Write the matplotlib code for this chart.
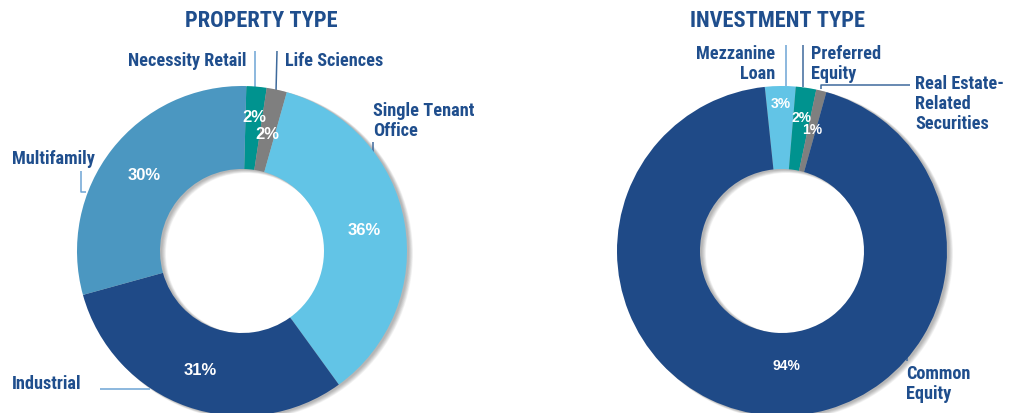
import matplotlib
matplotlib.use("Agg")
import matplotlib.pyplot as plt
from matplotlib import font_manager as fm
from matplotlib.font_manager import FontProperties
from matplotlib.patches import Wedge
import numpy as np

W, H = 1016, 414

# data
PROP_LABELS = ["Necessity Retail", "Life Sciences", "Single Tenant\nOffice", "Industrial", "Multifamily"]
PROP_VALUES = [2, 2, 36, 31, 30]
PROP_PCT = ["2%", "2%", "36%", "31%", "30%"]

INV_LABELS = ["Mezzanine\nLoan", "Preferred\nEquity", "Real Estate-\nRelated\nSecurities", "Common\nEquity"]
INV_VALUES = [3, 2, 1, 94]
INV_PCT = ["3%", "2%", "1%", "94%"]

DARK = "#1F4A87"
MID = "#4B97C1"
LIGHT = "#62C4E6"
TEAL = "#00938F"
GRAY = "#7F7F7F"
TXT = "#1F4E8D"
LINE_D = "#3E6A9C"
LINE_L = "#6EA4D4"

R_OUT, R_IN = 165, 82


def narrow_font():
    # look for an installed condensed bold face, else plain Liberation Sans bold
    prefs = ["liberation sans narrow", "roboto condensed", "noto sans condensed",
             "open sans condensed", "dejavu sans condensed", "condensed", "narrow"]
    cands = []
    for f in fm.fontManager.ttflist:
        key = (f.name + " " + f.fname).lower()
        cond = "narrow" in key or "condensed" in key or f.stretch in ("condensed", "semi-condensed")
        bold = f.weight in (700, "bold") or "bold" in f.fname.lower()
        if cond and bold and "italic" not in f.fname.lower() and "oblique" not in f.fname.lower():
            rank = next(i for i, p in enumerate(prefs) if p in key or p == "condensed" or p == "narrow")
            cands.append((rank, f.fname))
    if cands:
        return FontProperties(fname=sorted(cands)[0][1])
    return FontProperties(family="Liberation Sans", weight="bold")


def fit_size(fig, ax, fp, text, base, target):
    r = fig.canvas.get_renderer()
    t = ax.text(0, 0, text, fontproperties=fp, fontsize=base)
    w = t.get_window_extent(r).width
    t.remove()
    return min(base * target / w, base * 1.05)


def shadow(ax, cx, cy):
    for s in np.linspace(0, 5, 8):
        ax.add_patch(Wedge((cx + 2 + s * 0.5, cy - 1 - s * 0.3), R_OUT + s * 0.3, 0, 360,
                           width=R_OUT - R_IN + s * 0.6, color="#000000", alpha=0.04, lw=0, zorder=0))


def donut(ax, values, pct, colors, center, start, pct_pos, pct_size):
    cx, cy = center[0], H - center[1]
    shadow(ax, cx, cy)
    wedges, _ = ax.pie(values, colors=colors, startangle=start, counterclock=False,
                       radius=R_OUT, center=(cx, cy),
                       wedgeprops=dict(width=R_OUT - R_IN, linewidth=0))
    for w in wedges:
        w.set_zorder(2)
    for w, t, (d, da) in zip(wedges, pct, pct_pos):
        a = np.deg2rad((w.theta1 + w.theta2) / 2 + da)
        ax.text(cx + d * R_OUT * np.cos(a), cy + d * R_OUT * np.sin(a), t,
                ha="center", va="center", color="white", fontsize=pct_size,
                fontweight="bold", family="Liberation Sans", zorder=3)


def leader(ax, xs, ys, color=LINE_D):
    ax.plot(xs, [H - y for y in ys], color=color, lw=1.1, zorder=1, solid_capstyle="butt")


fig = plt.figure(figsize=(W / 100, H / 100), dpi=100)
ax = fig.add_axes([0, 0, 1, 1])
ax.set_xlim(0, W)
ax.set_ylim(0, H)

FP = narrow_font()
LAB_SIZE = fit_size(fig, ax, FP, "Necessity Retail", 13, 118)
TITLE_SIZE = fit_size(fig, ax, FP, "PROPERTY TYPE", 16, 152)


def label(ax, x, y, s, ha="left"):
    ax.text(x, H - y, s, ha=ha, va="top", color=TXT, fontproperties=FP, fontsize=LAB_SIZE,
            linespacing=1.15, zorder=4)


donut(ax, PROP_VALUES, PROP_PCT, [TEAL, GRAY, LIGHT, DARK, MID], (242, 252), 88.5,
      [(0.82, 0), (0.73, 0), (0.75, 0), (0.76, 0), (0.75, 0)], 12)
donut(ax, INV_VALUES, INV_PCT, [LIGHT, TEAL, GRAY, DARK], (782, 252), 96,
      [(0.9, 0), (0.82, 0), (0.76, 0), (0.69, 7)], 10)

ax.text(261, H - 21, "PROPERTY TYPE", ha="center", va="center", color=TXT,
        fontproperties=FP, fontsize=TITLE_SIZE)
ax.text(777, H - 21, "INVESTMENT TYPE", ha="center", va="center", color=TXT,
        fontproperties=FP, fontsize=TITLE_SIZE)

label(ax, 246, 52, PROP_LABELS[0], ha="right")
label(ax, 285, 52, PROP_LABELS[1])
label(ax, 373, 102, PROP_LABELS[2])
label(ax, 12, 375, PROP_LABELS[3])
label(ax, 12, 150, PROP_LABELS[4])

label(ax, 775, 45, INV_LABELS[0], ha="right")
label(ax, 811, 45, INV_LABELS[1])
label(ax, 915, 75, INV_LABELS[2])
label(ax, 906, 365, INV_LABELS[3])

leader(ax, [255, 255], [52, 90], LINE_L)
leader(ax, [277, 276], [52, 93])
leader(ax, [373, 373], [143, 156])
leader(ax, [81, 81, 86], [172, 193, 193], LINE_L)
leader(ax, [100, 150], [390, 390], LINE_L)
leader(ax, [786, 786], [46, 87], LINE_L)
leader(ax, [803, 803], [46, 88])
leader(ax, [821, 821, 910], [90, 86, 86])
leader(ax, [907, 907], [355, 362])

ax.set_xlim(0, W)
ax.set_ylim(0, H)
ax.set_aspect("auto")
ax.axis("off")

fig.savefig("out.png", dpi=100, facecolor="white")
